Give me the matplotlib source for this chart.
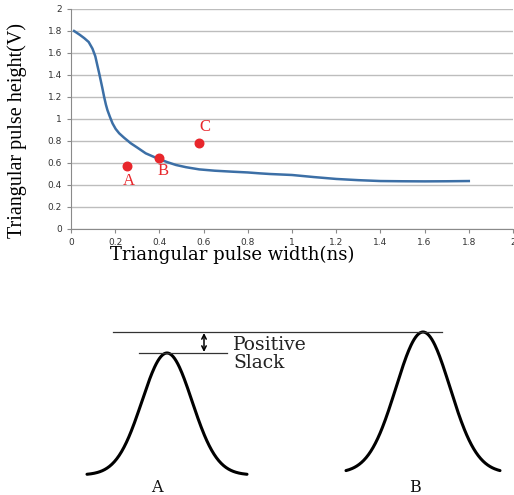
import matplotlib.pyplot as plt
import numpy as np

# curve
width_ns = [0.014, 0.04, 0.06, 0.08, 0.097, 0.11, 0.119, 0.127, 0.134, 0.142, 0.15, 0.158,
            0.165, 0.176, 0.188, 0.202, 0.218, 0.24, 0.27, 0.30, 0.338, 0.37, 0.40, 0.44,
            0.475, 0.52, 0.58, 0.65, 0.73, 0.80, 0.853, 0.90, 1.0, 1.1, 1.2, 1.3, 1.4,
            1.5, 1.6, 1.7, 1.8]
height_v = [1.80, 1.765, 1.735, 1.70, 1.64, 1.57, 1.49, 1.42, 1.355, 1.28, 1.20, 1.13,
            1.08, 1.02, 0.96, 0.91, 0.87, 0.83, 0.78, 0.74, 0.688, 0.66, 0.634, 0.605,
            0.582, 0.562, 0.542, 0.53, 0.521, 0.514, 0.506, 0.50, 0.491, 0.472, 0.455, 0.444, 0.436,
            0.434, 0.433, 0.434, 0.436]

# marked points
pt_names = ['A', 'B', 'C']
pt_x = [0.255, 0.40, 0.578]
pt_y = [0.57, 0.645, 0.78]
lbl_x = [0.26, 0.415, 0.605]
lbl_y = [0.44, 0.53, 0.93]

# schematic pulses (pixel space of lower panel)
pulse_names = ['A', 'B']
pulse_center = [167, 423]
pulse_peak = [353, 332]
pulse_base = [475, 473]
pulse_sigma = [25, 27]
pulse_half = [80, 77]

W, H = 514, 495
fig = plt.figure(figsize=(W / 100, H / 100), dpi=100)

ax = fig.add_axes([71 / W, (H - 229) / H, (513 - 71) / W, 220 / H])
ax.plot(width_ns, height_v, color='#3c6fa6', lw=1.8)
ax.scatter(pt_x, pt_y, s=38, color='#e8262b', zorder=3)
for n, x, y in zip(pt_names, lbl_x, lbl_y):
    ax.text(x, y, n, color='#e8262b', fontsize=12, family='Liberation Serif',
            ha='center', va='center')

ticks = np.arange(0, 2.01, 0.2)
ax.set_xlim(0, 2)
ax.set_ylim(0, 2)
ax.set_xticks(ticks)
ax.set_yticks(ticks)
ax.set_xticklabels(['%g' % round(v, 1) for v in ticks])
ax.set_yticklabels(['%g' % round(v, 1) for v in ticks])
ax.tick_params(labelsize=6.5, colors='#8a8a8a', labelcolor='#333333', length=3, direction='out')
ax.grid(axis='y', color='#bdbdbd', lw=1)
for s in ['top', 'right']:
    ax.spines[s].set_visible(False)
for s in ['left', 'bottom']:
    ax.spines[s].set_color('#8a8a8a')
ax.set_axisbelow(True)
ax.set_xlabel('Triangular pulse width(ns)', family='DejaVu Serif', fontsize=13)
ax.xaxis.set_label_coords(0.364, -0.075)
ax.set_ylabel('Triangular pulse height(V)', family='Liberation Serif', fontsize=14.5)
ax.yaxis.set_label_coords(-0.1, 0.45)

# lower schematic
ax2 = fig.add_axes([0, 0, 1, 1])
ax2.set_xlim(0, W)
ax2.set_ylim(H, 0)
ax2.axis('off')
ax2.patch.set_alpha(0)

for n, c, p, b, sg, hw in zip(pulse_names, pulse_center, pulse_peak, pulse_base, pulse_sigma, pulse_half):
    xs = np.linspace(c - hw, c + hw, 200)
    ys = b - (b - p) * np.exp(-(xs - c) ** 2 / (2 * sg ** 2))
    ax2.plot(xs, ys, color='black', lw=2.2, solid_capstyle='round')
    ax2.text(c - 10 if n == 'A' else c - 8, 487, n, family='DejaVu Serif', fontsize=11.5,
             ha='center', va='center', color='#111111')

ax2.plot([113, 442], [pulse_peak[1], pulse_peak[1]], color='#333333', lw=0.9)
ax2.plot([139, 227], [pulse_peak[0], pulse_peak[0]], color='#333333', lw=0.9)
ax2.annotate('', xy=(204, pulse_peak[1] + 1), xytext=(204, pulse_peak[0] - 1),
             arrowprops=dict(arrowstyle='<->', color='black', lw=1.1,
                             mutation_scale=8, shrinkA=0, shrinkB=0))
ax2.text(233, 345, 'Positive', family='DejaVu Serif', fontsize=13.5, va='center', color='#222222')
ax2.text(233, 363, 'Slack', family='DejaVu Serif', fontsize=13.5, va='center', color='#222222')

fig.savefig('out.png', dpi=100)
